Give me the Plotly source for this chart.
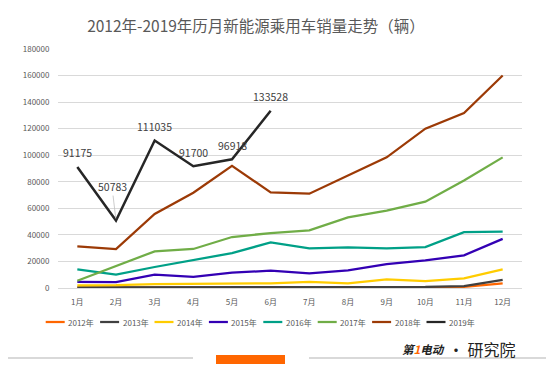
import plotly.graph_objects as go

months = ["1月", "2月", "3月", "4月", "5月", "6月", "7月", "8月", "9月", "10月", "11月", "12月"]

s2012 = [300, 300, 400, 400, 400, 500, 500, 500, 600, 600, 900, 3400]
s2013 = [500, 500, 600, 600, 600, 700, 700, 700, 800, 800, 1500, 6100]
s2014 = [2000, 2100, 3000, 3200, 3300, 3500, 4700, 3500, 6500, 5200, 7300, 14000]
s2015 = [4700, 4500, 10000, 8300, 11500, 13000, 11000, 13300, 18000, 20800, 24600, 37000]
s2016 = [14000, 10000, 15800, 20800, 26300, 34300, 29800, 30500, 29800, 30800, 42000, 42500]
s2017 = [5500, 16300, 27600, 29400, 38400, 41400, 43400, 53200, 58200, 65000, 81000, 98400]
s2018 = [31300, 29300, 55700, 71800, 92000, 72000, 71000, 84600, 98400, 120000, 131800, 160000]
s2019 = [91175, 50783, 111035, 91700, 96918, 133528]

series_names = ["2012年", "2013年", "2014年", "2015年", "2016年", "2017年", "2018年", "2019年"]
series_values = [s2012, s2013, s2014, s2015, s2016, s2017, s2018, s2019]
series_colors = ["#FF6600", "#404040", "#FFCC00", "#3300B4", "#00A087", "#70AD47", "#9C3A06", "#262626"]

title_text = "2012年-2019年历月新能源乘用车销量走势（辆）"

# page body has an 8px margin; work in reference pixel coords and shift
OFF = 8
W, H = 554 - OFF, 370 - OFF
ML, MR, MT, MB = 58 - OFF, 32, 49 - OFF, 82
PW, PH = W - ML - MR, H - MT - MB

def px(x):
    return (x - OFF - ML) / PW

def py(y):
    return (H - MB - (y - OFF)) / PH

fig = go.Figure()
for name, vals, col in zip(series_names, series_values, series_colors):
    fig.add_trace(go.Scatter(
        x=months[:len(vals)], y=vals, name=name, mode="lines",
        line=dict(color=col, width=2.25 if name != "2019年" else 2.5),
        showlegend=False,
    ))

annos = []
for m, v in zip(months, s2019):
    if v == 50783:
        annos.append(dict(x=m, y=v, text=f"{v}", showarrow=True, ax=-4, ay=-34,
                          arrowhead=0, arrowwidth=0.8, arrowcolor="#BFBFBF", standoff=2,
                          font=dict(size=10.5, color="#404040", family="Noto Sans CJK SC")))
    else:
        annos.append(dict(x=m, y=v, text=f"{v}", showarrow=False, yshift=14,
                          font=dict(size=10.5, color="#404040", family="Noto Sans CJK SC")))

shapes = []
# manual legend (one row below the axis)
for i, (name, col) in enumerate(zip(series_names, series_colors)):
    x0 = 45.7 + i * 54.4
    shapes.append(dict(type="line", xref="paper", yref="paper", x0=px(x0), x1=px(x0 + 19),
                       y0=py(322), y1=py(322), line=dict(color=col, width=2.25)))
    annos.append(dict(xref="paper", yref="paper", x=px(x0 + 20.5), y=py(322), xanchor="left",
                      yanchor="middle", text=name, showarrow=False,
                      font=dict(size=8, color="#595959", family="Noto Sans CJK SC")))

# logo text
annos.append(dict(xref="paper", yref="paper", x=px(447), y=py(349), xanchor="right", yanchor="middle",
                  text="<b><i>第<span style='color:#FF6600'>1</span>电动</i></b>", showarrow=False,
                  font=dict(size=11.5, color="#222222", family="Noto Sans CJK SC")))
annos.append(dict(xref="paper", yref="paper", x=px(518), y=py(349), xanchor="right", yanchor="middle",
                  text="• 研究院", showarrow=False,
                  font=dict(size=16, color="#222222", family="Noto Sans CJK SC")))

shapes += [
    dict(type="line", xref="paper", yref="paper", x0=px(0), x1=px(193), y0=py(358), y1=py(358),
         line=dict(color="#D9D9D9", width=2)),
    dict(type="line", xref="paper", yref="paper", x0=px(309), x1=px(554), y0=py(358), y1=py(358),
         line=dict(color="#D9D9D9", width=2)),
    dict(type="rect", xref="paper", yref="paper", x0=px(216), x1=px(285), y0=py(364), y1=py(355),
         line=dict(width=0), fillcolor="#FF6600"),
]

fig.update_layout(
    width=W, height=H,
    margin=dict(l=ML, r=MR, t=MT, b=MB, autoexpand=False),
    paper_bgcolor="white", plot_bgcolor="white",
    font=dict(family="Noto Sans CJK SC", color="#595959", size=8),
    title=dict(text=title_text, x=(256 - OFF) / W, xanchor="center", xref="container",
               y=1 - (27 - OFF) / H, yanchor="middle", yref="container",
               font=dict(size=15.5, color="#595959", family="Noto Sans CJK SC")),
    showlegend=False,
    annotations=annos,
    shapes=shapes,
)
fig.update_xaxes(type="category", range=[-0.5, 11.5], showgrid=False, showline=False,
                 zeroline=False, ticks="outside", ticklen=6, tickcolor="rgba(0,0,0,0)",
                 tickangle=0, tickfont=dict(size=8, color="#595959"))
fig.update_yaxes(range=[0, 180000], dtick=20000, tickformat="d", showgrid=True,
                 gridcolor="#D9D9D9", gridwidth=1, zeroline=True, zerolinecolor="#D9D9D9",
                 zerolinewidth=1, showline=False, ticks="outside", ticklen=6,
                 tickcolor="rgba(0,0,0,0)", tickfont=dict(size=8, color="#595959"))

fig.write_html("out.html")
